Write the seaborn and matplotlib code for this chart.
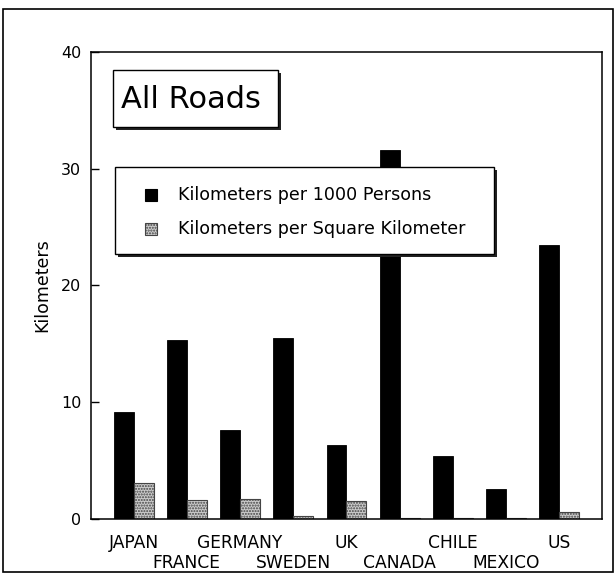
import numpy as np
import pandas as pd
import matplotlib
matplotlib.use("Agg")
import matplotlib.pyplot as plt
import matplotlib.patches as mpatches
import seaborn as sns

countries = ["JAPAN", "FRANCE", "GERMANY", "SWEDEN", "UK", "CANADA", "CHILE", "MEXICO", "US"]
per_1000_persons = [9.2, 15.3, 7.6, 15.5, 6.3, 31.6, 5.4, 2.6, 23.5]
per_sq_km = [3.1, 1.65, 1.75, 0.3, 1.5, 0.08, 0.06, 0.06, 0.62]
series_names = ["Kilometers per 1000 Persons", "Kilometers per Square Kilometer"]
series_colors = ["black", "#cccccc"]
y_ticks = [0, 10, 20, 30, 40]

df = pd.DataFrame({
    "country": countries * 2,
    "measure": [series_names[0]] * len(countries) + [series_names[1]] * len(countries),
    "value": per_1000_persons + per_sq_km,
})

sns.set_style("ticks")
plt.rcParams['font.family'] = ['DejaVu Sans']
plt.rcParams['text.color'] = 'black'
plt.rcParams['axes.labelcolor'] = 'black'
plt.rcParams['xtick.color'] = 'black'
plt.rcParams['ytick.color'] = 'black'

fig = plt.figure(figsize=(6.16, 5.77), dpi=100)
ax = fig.add_axes([0.1477, 0.1005, 0.8295, 0.8094])

sns.barplot(data=df, x="country", y="value", hue="measure", order=countries,
            hue_order=series_names, palette=series_colors, width=0.75,
            saturation=1, errorbar=None, ax=ax, legend=False)

# black bars solid, grey bars stippled
n = len(countries)
for i, bar in enumerate(ax.patches[:2 * n]):
    if i < n:
        bar.set_edgecolor("black")
        bar.set_linewidth(0.6)
    else:
        bar.set_edgecolor("#444444")
        bar.set_hatch("......")
        bar.set_linewidth(0.8)

ax.set_xlim(-0.8, 8.8)
ax.set_ylim(0, 40)
ax.set_yticks(y_ticks)
ax.set_yticklabels([str(t) for t in y_ticks], fontsize=11.5)
ax.tick_params(axis="y", direction="in", length=6, width=1, pad=7)

# country labels staggered on two rows
ax.set_xticks(range(0, n, 2))
ax.set_xticklabels(countries[0::2], fontsize=12.3)
ax.set_xticks(range(1, n, 2), minor=True)
ax.set_xticklabels(countries[1::2], minor=True, fontsize=12.3)
ax.tick_params(axis="x", which="major", length=0, pad=11)
ax.tick_params(axis="x", which="minor", length=0, pad=25.5)

ax.set_xlabel("")
ax.set_ylabel("Kilometers", fontsize=12.5, labelpad=7)
for s in ax.spines.values():
    s.set_visible(True)
    s.set_linewidth(1.1)
    s.set_color("black")

# title box with shadow
sx, sy = 3 / 511, 3 / 467
ax.add_patch(mpatches.Rectangle((0.043 + sx, 0.839 - sy), 0.323, 0.122, transform=ax.transAxes,
                                fc="#222222", ec="none", zorder=4))
ax.add_patch(mpatches.Rectangle((0.043, 0.839), 0.323, 0.122, transform=ax.transAxes,
                                fc="white", ec="black", lw=1, zorder=5))
ax.text(0.058, 0.899, "All Roads", transform=ax.transAxes, fontsize=22,
        ha="left", va="center", zorder=6)

# legend box with shadow
ax.add_patch(mpatches.Rectangle((0.047 + sx, 0.567 - sy), 0.742, 0.186, transform=ax.transAxes,
                                fc="#222222", ec="none", zorder=4))
ax.add_patch(mpatches.Rectangle((0.047, 0.567), 0.742, 0.186, transform=ax.transAxes,
                                fc="white", ec="black", lw=1, zorder=5))
row_y = [(519 - 195) / 467, (519 - 229) / 467]
hw, hh = 12 / 511, 12 / 467
for k, name in enumerate(series_names):
    hatch = None if k == 0 else "......"
    ec = "black" if k == 0 else "#444444"
    ax.add_patch(mpatches.Rectangle((0.106, row_y[k] - hh / 2), hw, hh, transform=ax.transAxes,
                                    fc=series_colors[k], ec=ec, hatch=hatch, lw=0.8, zorder=6))
    ax.text(0.170, row_y[k], name, transform=ax.transAxes, fontsize=12.6,
            ha="left", va="center", zorder=6)

# outer page border
fig.patches.append(mpatches.Rectangle((0.005, 0.009), 0.99, 0.975, transform=fig.transFigure,
                                      fill=False, ec="black", lw=1.2))

fig.savefig("out.png", dpi=100)
